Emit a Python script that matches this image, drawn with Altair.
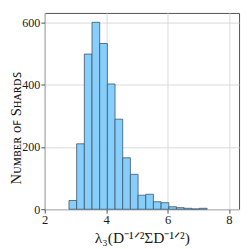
import altair as alt
import pandas as pd

# Histogram bins
bin_start = [2.79, 3.04, 3.29, 3.54, 3.79, 4.04, 4.29, 4.54, 4.79, 5.04, 5.29, 5.54, 5.79, 6.04, 6.29, 6.54, 6.79, 7.04]
bin_end = [3.04, 3.29, 3.54, 3.79, 4.04, 4.29, 4.54, 4.79, 5.04, 5.29, 5.54, 5.79, 6.04, 6.29, 6.54, 6.79, 7.04, 7.29]
counts = [28, 210, 498, 600, 532, 402, 289, 165, 112, 45, 48, 24, 21, 8, 5, 3, 1, 3]

x_ticks = [2, 4, 6, 8]
y_ticks = [0, 200, 400, 600]

x_title = "λ₃(D⁻¹ᐟ²ΣD⁻¹ᐟ²)"
y_title = "Nᴜᴍʙᴇʀ ᴏꜰ Sʜᴀʀᴅꜱ"

df = pd.DataFrame({"start": bin_start, "end": bin_end, "count": counts})

FONT = "Liberation Serif"
FRAME = "#4d4d4d"

bars = alt.Chart(df).mark_bar(
    fill="#87CEFA", stroke="#3f5a70", strokeWidth=1, strokeOpacity=0.85
).encode(
    x=alt.X(
        "start:Q",
        scale=alt.Scale(domain=[2, 8.33], nice=False, zero=False),
        axis=alt.Axis(values=x_ticks, title=x_title, format="d",
                      labelFlush=False, labelPadding=1, titlePadding=3,
                      labelFontSize=13, titleFontSize=16),
    ),
    x2="end:Q",
    y=alt.Y(
        "count:Q",
        scale=alt.Scale(domain=[0, 630], nice=False),
        axis=alt.Axis(values=y_ticks, title=y_title, format="d",
                      labelPadding=1, labelFontSize=12.5,
                      titleX=-22, titleY=119),
    ),
    y2=alt.datum(0),
)

chart = bars.properties(
    width=201,
    height=203,
    autosize=alt.AutoSizeParams(type="none"),
    padding={"left": 38, "top": 1, "right": 2, "bottom": 37},
).configure_view(
    stroke=FRAME, strokeWidth=1
).configure_axis(
    labelFont=FONT, labelColor="#1a1a1a",
    titleFont=FONT, titleFontSize=15, titleFontWeight="normal", titleColor="#1a1a1a",
    tickColor=FRAME, tickSize=4, domain=False,
    gridColor="#d9d9d9", gridWidth=1,
)

chart.save("out.html", embed_options={"renderer": "svg", "actions": False})
